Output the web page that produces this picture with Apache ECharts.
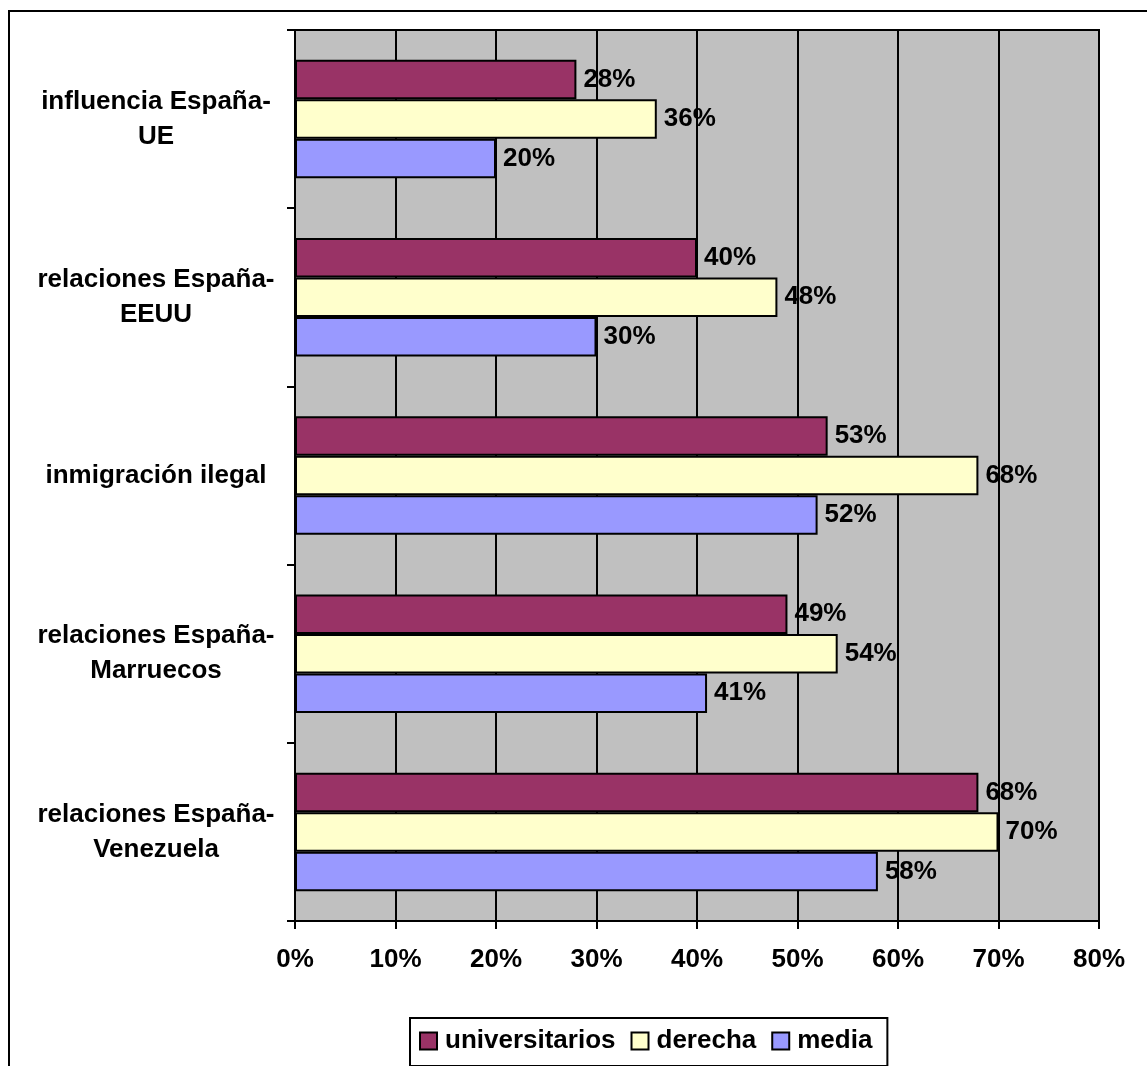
<!DOCTYPE html>
<html>
<head>
<meta charset="utf-8">
<script src="https://cdn.jsdelivr.net/npm/echarts@6/dist/echarts.min.js"></script>
<style>
html,body{margin:0;padding:0;background:#fff;}
#chart{width:1147px;height:1066px;}
</style>
</head>
<body>
<div id="chart"></div>
<script>
var categories = [
  'influencia España-\nUE',
  'relaciones España-\nEEUU',
  'inmigración ilegal',
  'relaciones España-\nMarruecos',
  'relaciones España-\nVenezuela'
];
var seriesNames = ['universitarios', 'derecha', 'media'];
var universitarios = [28, 40, 53, 49, 68];
var derecha = [36, 48, 68, 54, 70];
var media = [20, 30, 52, 41, 58];
var xTicks = [0, 10, 20, 30, 40, 50, 60, 70, 80];

var colors = ['#993366', '#FFFFCC', '#9999FF'];
var FONT = '"Liberation Sans", Arial, sans-serif';
var values = [universitarios, derecha, media];

var chart = echarts.init(document.getElementById('chart'), null, {renderer: 'canvas'});

var series = seriesNames.map(function (name, i) {
  return {
    name: name,
    type: 'bar',
    data: values[i],
    barGap: '0%',
    barCategoryGap: '33.5%',
    itemStyle: {color: colors[i], borderColor: '#000', borderWidth: 2},
    label: {
      show: true,
      position: 'right',
      distance: 7,
      formatter: '{c}%',
      color: '#000',
      fontFamily: FONT,
      fontWeight: 'bold',
      fontSize: 26
    }
  };
});

chart.setOption({
  animation: false,
  backgroundColor: '#fff',
  graphic: [{
    type: 'rect',
    shape: {x: 9, y: 11, width: 1300, height: 1200},
    style: {fill: 'none', stroke: '#000', lineWidth: 2},
    silent: true
  }],
  grid: {
    left: 295, right: 48, top: 30, bottom: 145,
    show: true,
    backgroundColor: '#C0C0C0',
    borderColor: '#000',
    borderWidth: 2
  },
  legend: {
    data: seriesNames,
    left: 410,
    top: 1018,
    orient: 'horizontal',
    itemWidth: 17,
    itemHeight: 17,
    itemGap: 15,
    padding: [10, 15, 12, 9],
    backgroundColor: '#fff',
    borderColor: '#000',
    borderWidth: 2,
    icon: 'rect',
    textStyle: {color: '#000', fontFamily: FONT, fontWeight: 'bold', fontSize: 26, padding: [0, 0, 0, 3]}
  },
  xAxis: {
    type: 'value',
    min: xTicks[0],
    max: xTicks[xTicks.length - 1],
    interval: 10,
    axisLine: {show: true, lineStyle: {color: '#000', width: 2}},
    axisTick: {show: true, length: 8, lineStyle: {color: '#000', width: 2}},
    splitLine: {show: true, lineStyle: {color: '#000', width: 2}},
    axisLabel: {
      formatter: '{value}%',
      margin: 26,
      color: '#000',
      fontFamily: FONT,
      fontWeight: 'bold',
      fontSize: 26
    }
  },
  yAxis: {
    type: 'category',
    data: categories,
    inverse: true,
    axisLine: {show: true, lineStyle: {color: '#000', width: 2}},
    axisTick: {show: true, length: 8, lineStyle: {color: '#000', width: 2}},
    splitLine: {show: false},
    axisLabel: {
      margin: 139,
      align: 'center',
      color: '#000',
      fontFamily: FONT,
      fontWeight: 'bold',
      fontSize: 26,
      lineHeight: 35
    }
  },
  series: series
});
</script>
</body>
</html>
